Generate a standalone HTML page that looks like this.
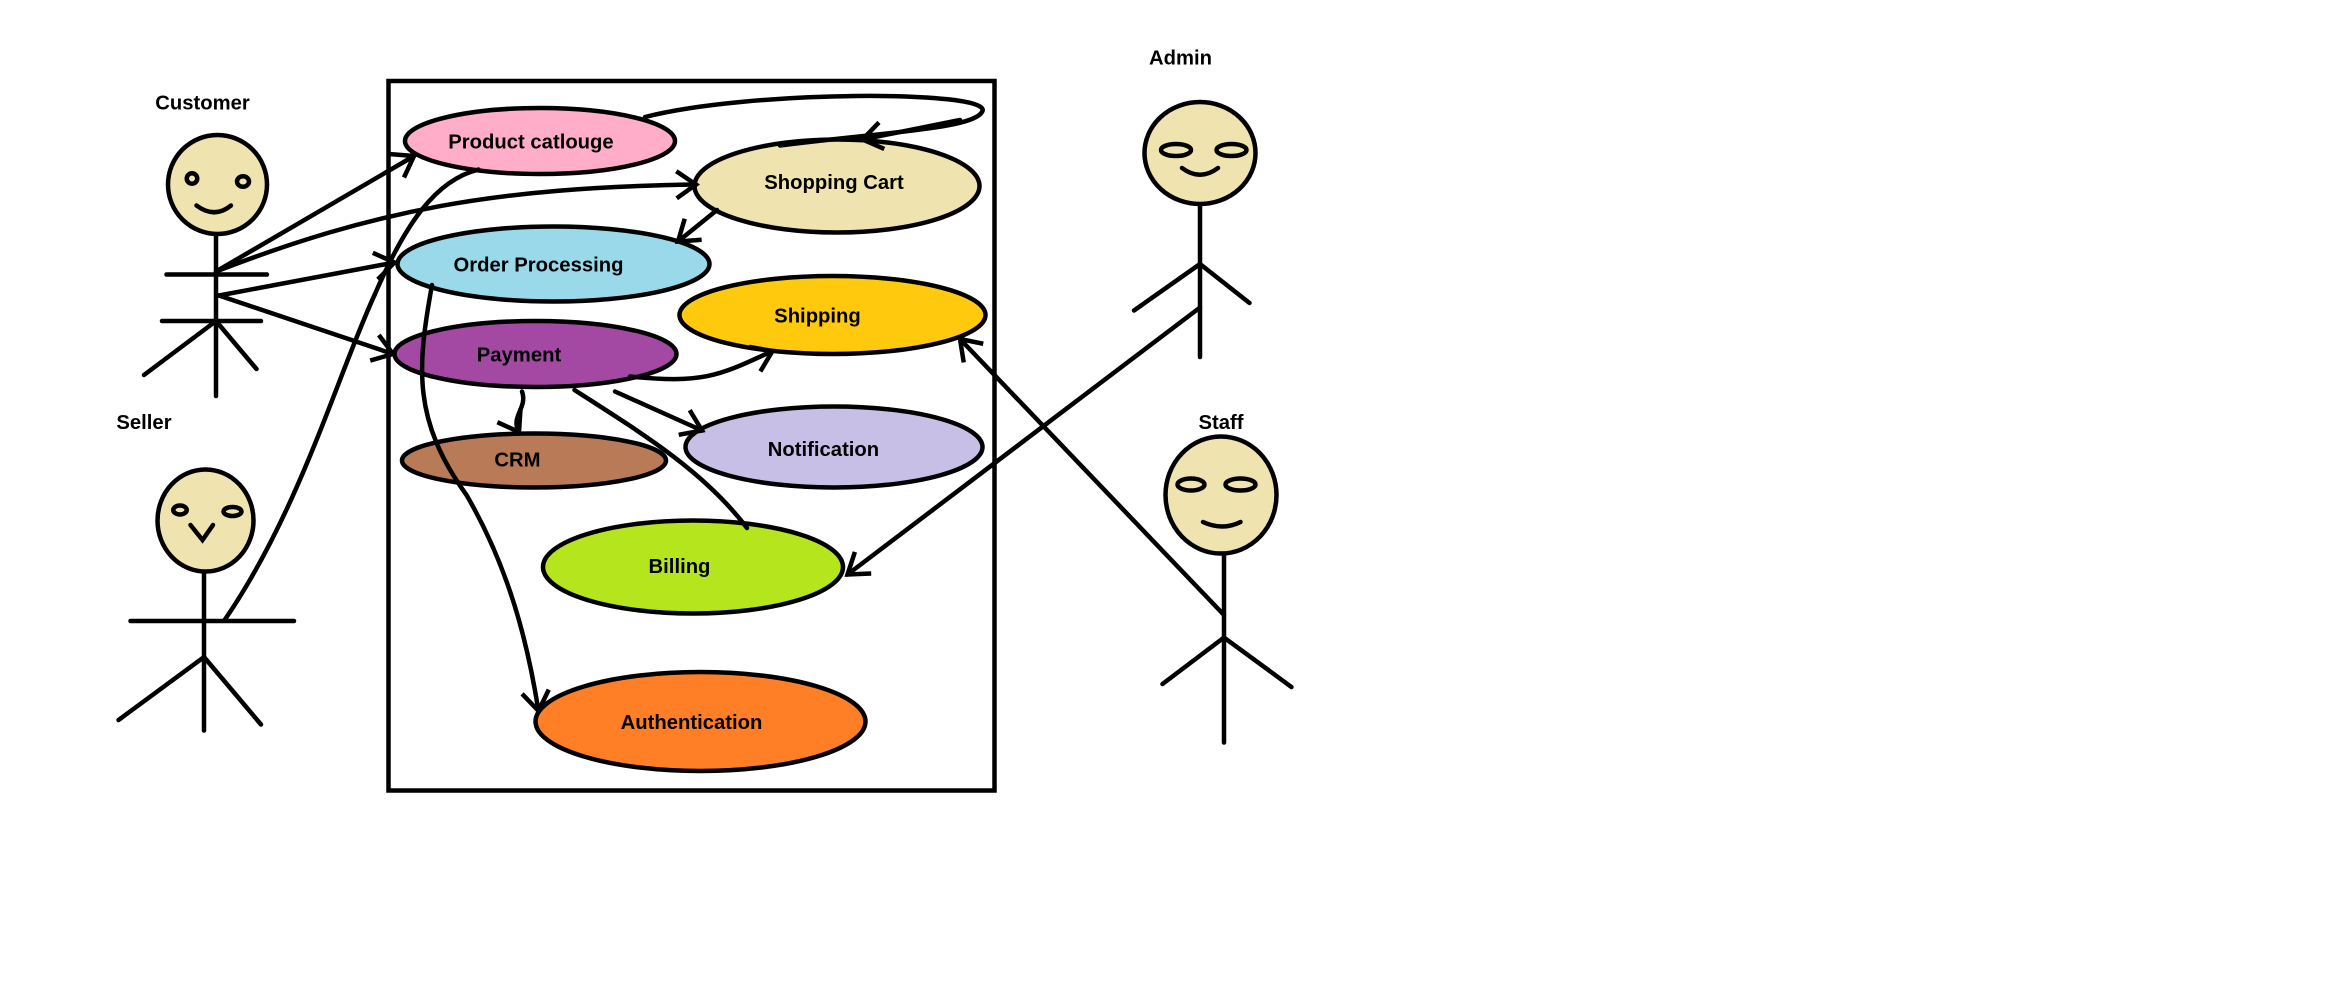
<!DOCTYPE html>
<html><head><meta charset="utf-8"><style>
html,body{margin:0;padding:0;background:#fff;}
svg{display:block;}
text{font-family:"Liberation Sans",sans-serif;font-weight:bold;font-size:13.5px;fill:#000;}
</style></head><body>
<svg width="2342" height="1004" viewBox="0 0 1561.33 669.33" preserveAspectRatio="none" xmlns="http://www.w3.org/2000/svg">
<defs>
<marker id="a" markerUnits="userSpaceOnUse" markerWidth="30" markerHeight="30" refX="15" refY="15" orient="auto">
<path d="M2,6 L15,15 L2,24" fill="none" stroke="#000" stroke-width="3"/>
</marker>
</defs>
<rect width="1561.33" height="669.33" fill="#fff"/>
<rect x="259" y="54" width="404" height="473" fill="none" stroke="#000" stroke-width="3"/>

<g stroke="#000" stroke-width="3">
<ellipse cx="360" cy="94" rx="90" ry="22" fill="#FFADC9"/>
<ellipse cx="558" cy="124" rx="95" ry="31" fill="#EFE4B0"/>
<ellipse cx="369" cy="176" rx="104" ry="25" fill="#99D9EA"/>
<ellipse cx="555" cy="210" rx="102" ry="26" fill="#FFC90E"/>
<ellipse cx="357" cy="236" rx="94" ry="22" fill="#A349A4"/>
<ellipse cx="356" cy="307" rx="88" ry="18" fill="#B97A57"/>
<ellipse cx="556" cy="298" rx="99" ry="27" fill="#C8BFE7"/>
<ellipse cx="462" cy="378" rx="100" ry="31" fill="#B5E61D"/>
<ellipse cx="467" cy="481" rx="110" ry="33" fill="#FF7F27"/>
</g>

<g fill="none" stroke="#000" stroke-width="3" stroke-linecap="round">
<!-- customer links -->
<line x1="144" y1="181" x2="276" y2="104" marker-end="url(#a)"/>
<path d="M144,181 C250,140 330,125 464,123" marker-end="url(#a)"/>
<line x1="146" y1="197" x2="263" y2="175" marker-end="url(#a)"/>
<line x1="146" y1="197" x2="262" y2="236" marker-end="url(#a)"/>
<!-- seller to product -->
<path d="M150,413 C200,340 225,250 250,196 C270,150 290,120 319,113"/>
<!-- product loop -->
<path d="M430,78 C500,60 660,60 655,74 C650,86 590,88 520,97"/>
<path d="M640,80 L575,93" marker-end="url(#a)"/>
<!-- cart to order -->
<line x1="478" y1="140" x2="452" y2="161" marker-end="url(#a)"/>
<!-- order to auth -->
<path d="M288,190 C278,245 275,280 311,330 C340,380 352,430 359,474" marker-end="url(#a)"/>
<!-- payment to shipping -->
<path d="M420,251 C470,256 480,250 515,234" marker-end="url(#a)"/>
<!-- payment to crm -->
<path d="M348,261 C352,272 340,278 346,288" marker-end="url(#a)"/>
<!-- payment to notification -->
<line x1="410" y1="261" x2="468" y2="287" marker-end="url(#a)"/>
<!-- payment to billing -->
<path d="M383,260 C430,290 470,315 498,352"/>
<!-- admin to billing -->
<line x1="800" y1="205" x2="565" y2="383" marker-end="url(#a)"/>
<!-- staff to shipping -->
<line x1="816" y1="410" x2="640" y2="226" marker-end="url(#a)"/>
</g>

<!-- actors -->
<g stroke="#000" stroke-width="3" stroke-linecap="round">
<!-- customer -->
<ellipse cx="145" cy="123" rx="33" ry="33" fill="#EFE4B0"/>
<g fill="none">
<line x1="144" y1="157" x2="144" y2="264"/>
<line x1="111" y1="183" x2="178" y2="183"/>
<line x1="108" y1="214" x2="174" y2="214"/>
<line x1="144" y1="214" x2="96" y2="250"/>
<line x1="144" y1="214" x2="171" y2="246"/>
<ellipse cx="128" cy="119" rx="3.5" ry="3.5"/>
<ellipse cx="162" cy="121" rx="4" ry="3.5"/>
<path d="M131,137 Q143,146 154,137"/>
<!-- seller -->
<line x1="136" y1="382" x2="136" y2="487"/>
<line x1="87" y1="414" x2="196" y2="414"/>
<line x1="136" y1="438" x2="79" y2="480"/>
<line x1="136" y1="438" x2="174" y2="483"/>
</g>
<ellipse cx="137" cy="347" rx="32" ry="34" fill="#EFE4B0"/>
<g fill="none">
<ellipse cx="120" cy="340" rx="4.5" ry="3"/>
<ellipse cx="155" cy="341" rx="6" ry="3"/>
<path d="M127,350 L135,360 L142,350"/>
<!-- admin -->
<line x1="800" y1="136" x2="800" y2="238"/>
<line x1="800" y1="176" x2="756" y2="207"/>
<line x1="800" y1="176" x2="833" y2="202"/>
</g>
<ellipse cx="800" cy="102" rx="37" ry="34" fill="#EFE4B0"/>
<g fill="none">
<ellipse cx="784" cy="100" rx="10" ry="4"/>
<ellipse cx="821" cy="100" rx="10" ry="4"/>
<path d="M788,112 Q800,121 812,112"/>
<!-- staff -->
<line x1="816" y1="369" x2="816" y2="495"/>
<line x1="816" y1="425" x2="775" y2="456"/>
<line x1="816" y1="425" x2="861" y2="458"/>
</g>
<ellipse cx="814" cy="330" rx="37" ry="39" fill="#EFE4B0"/>
<g fill="none">
<ellipse cx="794" cy="323" rx="9" ry="4"/>
<ellipse cx="827" cy="323" rx="10" ry="4"/>
<path d="M802,348 Q815,354 827,348"/>
</g>
</g>

<text x="135" y="73" text-anchor="middle">Customer</text>
<text x="96" y="286" text-anchor="middle">Seller</text>
<text x="787" y="43" text-anchor="middle">Admin</text>
<text x="814" y="286" text-anchor="middle">Staff</text>

<text x="354" y="99" text-anchor="middle">Product catlouge</text>
<text x="556" y="126" text-anchor="middle">Shopping Cart</text>
<text x="359" y="181" text-anchor="middle">Order Processing</text>
<text x="545" y="215" text-anchor="middle">Shipping</text>
<text x="346" y="241" text-anchor="middle">Payment</text>
<text x="345" y="311" text-anchor="middle">CRM</text>
<text x="549" y="304" text-anchor="middle">Notification</text>
<text x="453" y="382" text-anchor="middle">Billing</text>
<text x="461" y="486" text-anchor="middle">Authentication</text>
</svg>
</body></html>
